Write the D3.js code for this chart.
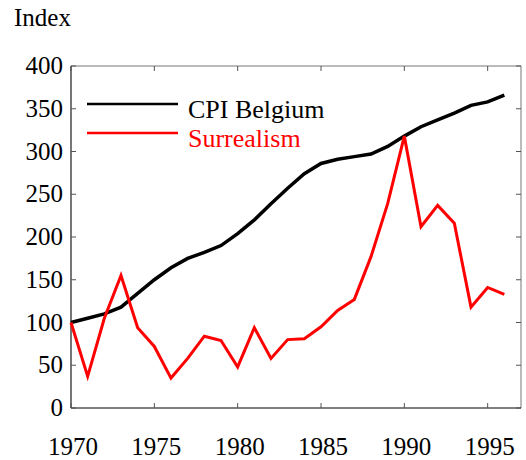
<!DOCTYPE html>
<html><head><meta charset="utf-8">
<script src="https://cdn.jsdelivr.net/npm/d3@7"></script>
<style>body{margin:0;background:#fff}svg{display:block}</style>
</head><body><svg id="c" width="526" height="460"></svg>
<script>
const years = d3.range(1970, 1997);
const cpiBelgium = [100,105,110,118,134,150,164,175,182,190,204,220,239,257,274,286,291,294,297,306,318,329,337,345,354,358,366];
const surrealism = [100,37,105,155,94,72,35,58,84,79,48,94,58,80,81,95,114,127,177,239,318,212,237,216,118,141,133];
const yTicks = [0,50,100,150,200,250,300,350,400];
const xTicks = [1970,1975,1980,1985,1990,1995];
const seriesNames = ["CPI Belgium","Surrealism"];
const seriesColors = ["#000","#ff0000"];
const FONT = "Liberation Serif, Times New Roman, serif";

const svg = d3.select("#c").attr("font-family", FONT);
const L=71,R=521,T=66,B=408;
const x = d3.scaleLinear().domain([1970,1997]).range([L,R]);
const y = d3.scaleLinear().domain([0,400]).range([B,T]);

// frame
svg.append("line").attr("x1",L).attr("x2",R).attr("y1",T).attr("y2",T).attr("stroke","#777").attr("stroke-width",1);
svg.append("line").attr("x1",R).attr("x2",R).attr("y1",T).attr("y2",B).attr("stroke","#777").attr("stroke-width",1);
svg.append("line").attr("x1",L).attr("x2",L).attr("y1",T).attr("y2",B).attr("stroke","#777").attr("stroke-width",2);
svg.append("line").attr("x1",L).attr("x2",R).attr("y1",B).attr("y2",B).attr("stroke","#000").attr("stroke-width",1);

// ticks
const tk = svg.append("g").attr("stroke","#555").attr("stroke-width",1);
yTicks.forEach(v=>{
  tk.append("line").attr("x1",L).attr("x2",L+5).attr("y1",y(v)).attr("y2",y(v));
  tk.append("line").attr("x1",R).attr("x2",R-5).attr("y1",y(v)).attr("y2",y(v));
});
xTicks.forEach(v=>{
  tk.append("line").attr("x1",x(v)).attr("x2",x(v)).attr("y1",B).attr("y2",B-5);
  tk.append("line").attr("x1",x(v)).attr("x2",x(v)).attr("y1",T).attr("y2",T+5);
});
svg.append("g").selectAll("text").data(yTicks).join("text")
  .attr("font-family",FONT)
  .attr("x",L-8).attr("y",d=>y(d)+8).attr("text-anchor","end")
  .attr("font-size",25).text(d=>d);
svg.append("g").selectAll("text").data(xTicks).join("text")
  .attr("font-family",FONT)
  .attr("x",d=>x(d)+2).attr("y",455).attr("text-anchor","middle")
  .attr("font-size",25).text(d=>d);
svg.append("text").attr("font-family",FONT).attr("x",14).attr("y",26).attr("font-size",25).text("Index");

// lines
const line = d3.line().x((d,i)=>x(years[i])).y(d=>y(d));
[cpiBelgium, surrealism].forEach((s,k)=>{
  svg.append("path").attr("d",line(s)).attr("fill","none")
    .attr("stroke",seriesColors[k]).attr("stroke-width",k==0?3.5:3).attr("stroke-linejoin","miter");
});

// legend
seriesNames.forEach((n,k)=>{
  const ly = 104 + k*29;
  svg.append("line").attr("x1",87).attr("x2",178).attr("y1",ly).attr("y2",ly)
    .attr("stroke",seriesColors[k]).attr("stroke-width",2.5);
  svg.append("text").attr("font-family",FONT).attr("x",188).attr("y",ly+14).attr("font-size",26)
    .attr("fill",seriesColors[k]).text(n);
});
</script></body></html>
